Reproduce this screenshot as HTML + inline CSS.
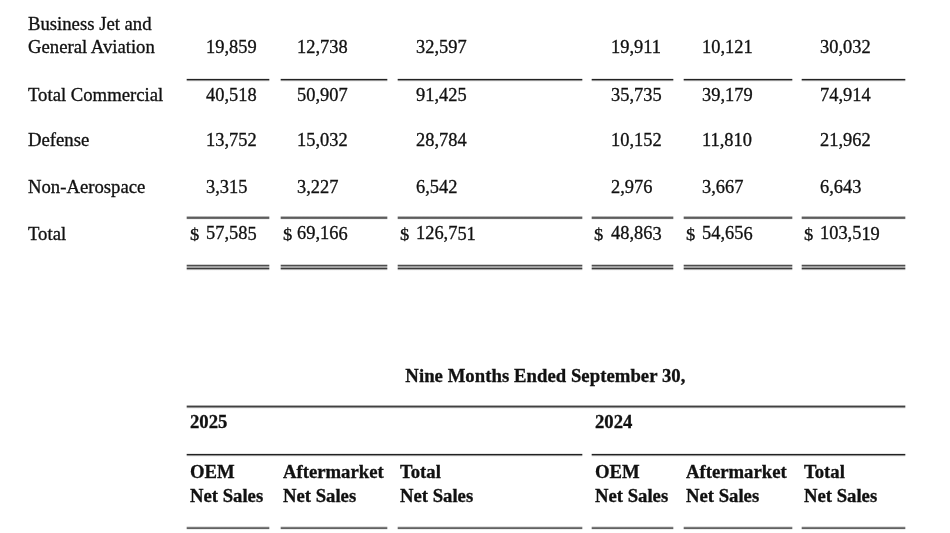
<!DOCTYPE html>
<html><head><meta charset="utf-8"><title>Net Sales</title>
<style>
html,body{margin:0;padding:0;background:#fff;}
body{width:950px;height:533px;position:relative;overflow:hidden;font-family:"Liberation Serif","Times New Roman",serif;font-size:18.7px;line-height:24px;color:#111;}
#tx{position:absolute;left:0;top:0;width:950px;height:533px;filter:blur(0.55px);}
.t{position:absolute;white-space:nowrap;transform-origin:0 18.2px;-webkit-text-stroke:0.32px #111;}
.b{font-weight:bold;}
.n{font-size:18.4px;}
.c{text-align:center;}
.l{position:absolute;}
.k{width:1px;opacity:0.32;}
.a79{height:4px;background:linear-gradient(to bottom,rgba(17,17,17,0.10) 0px,rgba(17,17,17,0.10) 1px,rgba(17,17,17,0.93) 1px,rgba(17,17,17,0.93) 2px,rgba(17,17,17,0.45) 2px,rgba(17,17,17,0.45) 3px,rgba(17,17,17,0.05) 3px,rgba(17,17,17,0.05) 4px);}
.a217{height:4px;background:linear-gradient(to bottom,rgba(17,17,17,0.30) 0px,rgba(17,17,17,0.30) 1px,rgba(17,17,17,0.68) 1px,rgba(17,17,17,0.68) 2px,rgba(17,17,17,0.62) 2px,rgba(17,17,17,0.62) 3px,rgba(17,17,17,0.05) 3px,rgba(17,17,17,0.05) 4px);}
.dbl{height:7px;background:linear-gradient(to bottom,rgba(17,17,17,0.20) 0px,rgba(17,17,17,0.20) 1px,rgba(17,17,17,0.75) 1px,rgba(17,17,17,0.75) 2px,rgba(17,17,17,0.40) 2px,rgba(17,17,17,0.40) 3px,rgba(17,17,17,0.38) 3px,rgba(17,17,17,0.38) 4px,rgba(17,17,17,0.82) 4px,rgba(17,17,17,0.82) 5px,rgba(17,17,17,0.35) 5px,rgba(17,17,17,0.35) 6px,rgba(17,17,17,0.03) 6px,rgba(17,17,17,0.03) 7px);}
.a527{height:4px;background:linear-gradient(to bottom,rgba(17,17,17,0.12) 0px,rgba(17,17,17,0.12) 1px,rgba(17,17,17,0.55) 1px,rgba(17,17,17,0.55) 2px,rgba(17,17,17,0.66) 2px,rgba(17,17,17,0.66) 3px,rgba(17,17,17,0.08) 3px,rgba(17,17,17,0.08) 4px);}
.a406{height:4px;background:linear-gradient(to bottom,rgba(17,17,17,0.35) 0px,rgba(17,17,17,0.35) 1px,rgba(17,17,17,0.80) 1px,rgba(17,17,17,0.80) 2px,rgba(17,17,17,0.45) 2px,rgba(17,17,17,0.45) 3px,rgba(17,17,17,0.05) 3px,rgba(17,17,17,0.05) 4px);}
.a454{height:4px;background:linear-gradient(to bottom,rgba(17,17,17,0.10) 0px,rgba(17,17,17,0.10) 1px,rgba(17,17,17,0.93) 1px,rgba(17,17,17,0.93) 2px,rgba(17,17,17,0.45) 2px,rgba(17,17,17,0.45) 3px,rgba(17,17,17,0.05) 3px,rgba(17,17,17,0.05) 4px);}
</style></head><body>
<div id="ln">
<div class="l a79" style="left:187px;top:78px;width:82px"></div>
<div class="l k a79" style="left:186px;top:78px"></div>
<div class="l k a79" style="left:269px;top:78px"></div>
<div class="l a217" style="left:187px;top:216px;width:82px"></div>
<div class="l k a217" style="left:186px;top:216px"></div>
<div class="l k a217" style="left:269px;top:216px"></div>
<div class="l dbl" style="left:187px;top:264px;width:82px"></div>
<div class="l k dbl" style="left:186px;top:264px"></div>
<div class="l k dbl" style="left:269px;top:264px"></div>
<div class="l a527" style="left:187px;top:526px;width:82px"></div>
<div class="l k a527" style="left:186px;top:526px"></div>
<div class="l k a527" style="left:269px;top:526px"></div>
<div class="l a79" style="left:281px;top:78px;width:106px"></div>
<div class="l k a79" style="left:280px;top:78px"></div>
<div class="l k a79" style="left:387px;top:78px"></div>
<div class="l a217" style="left:281px;top:216px;width:106px"></div>
<div class="l k a217" style="left:280px;top:216px"></div>
<div class="l k a217" style="left:387px;top:216px"></div>
<div class="l dbl" style="left:281px;top:264px;width:106px"></div>
<div class="l k dbl" style="left:280px;top:264px"></div>
<div class="l k dbl" style="left:387px;top:264px"></div>
<div class="l a527" style="left:281px;top:526px;width:106px"></div>
<div class="l k a527" style="left:280px;top:526px"></div>
<div class="l k a527" style="left:387px;top:526px"></div>
<div class="l a79" style="left:398px;top:78px;width:184px"></div>
<div class="l k a79" style="left:397px;top:78px"></div>
<div class="l k a79" style="left:582px;top:78px"></div>
<div class="l a217" style="left:398px;top:216px;width:184px"></div>
<div class="l k a217" style="left:397px;top:216px"></div>
<div class="l k a217" style="left:582px;top:216px"></div>
<div class="l dbl" style="left:398px;top:264px;width:184px"></div>
<div class="l k dbl" style="left:397px;top:264px"></div>
<div class="l k dbl" style="left:582px;top:264px"></div>
<div class="l a527" style="left:398px;top:526px;width:184px"></div>
<div class="l k a527" style="left:397px;top:526px"></div>
<div class="l k a527" style="left:582px;top:526px"></div>
<div class="l a79" style="left:592px;top:78px;width:81px"></div>
<div class="l k a79" style="left:591px;top:78px"></div>
<div class="l k a79" style="left:673px;top:78px"></div>
<div class="l a217" style="left:592px;top:216px;width:81px"></div>
<div class="l k a217" style="left:591px;top:216px"></div>
<div class="l k a217" style="left:673px;top:216px"></div>
<div class="l dbl" style="left:592px;top:264px;width:81px"></div>
<div class="l k dbl" style="left:591px;top:264px"></div>
<div class="l k dbl" style="left:673px;top:264px"></div>
<div class="l a527" style="left:592px;top:526px;width:81px"></div>
<div class="l k a527" style="left:591px;top:526px"></div>
<div class="l k a527" style="left:673px;top:526px"></div>
<div class="l a79" style="left:684px;top:78px;width:108px"></div>
<div class="l k a79" style="left:683px;top:78px"></div>
<div class="l k a79" style="left:792px;top:78px"></div>
<div class="l a217" style="left:684px;top:216px;width:108px"></div>
<div class="l k a217" style="left:683px;top:216px"></div>
<div class="l k a217" style="left:792px;top:216px"></div>
<div class="l dbl" style="left:684px;top:264px;width:108px"></div>
<div class="l k dbl" style="left:683px;top:264px"></div>
<div class="l k dbl" style="left:792px;top:264px"></div>
<div class="l a527" style="left:684px;top:526px;width:108px"></div>
<div class="l k a527" style="left:683px;top:526px"></div>
<div class="l k a527" style="left:792px;top:526px"></div>
<div class="l a79" style="left:802px;top:78px;width:103px"></div>
<div class="l k a79" style="left:801px;top:78px"></div>
<div class="l k a79" style="left:905px;top:78px"></div>
<div class="l a217" style="left:802px;top:216px;width:103px"></div>
<div class="l k a217" style="left:801px;top:216px"></div>
<div class="l k a217" style="left:905px;top:216px"></div>
<div class="l dbl" style="left:802px;top:264px;width:103px"></div>
<div class="l k dbl" style="left:801px;top:264px"></div>
<div class="l k dbl" style="left:905px;top:264px"></div>
<div class="l a527" style="left:802px;top:526px;width:103px"></div>
<div class="l k a527" style="left:801px;top:526px"></div>
<div class="l k a527" style="left:905px;top:526px"></div>
<div class="l a406" style="left:187px;top:405px;width:718px"></div>
<div class="l k a406" style="left:186px;top:405px"></div>
<div class="l k a406" style="left:905px;top:405px"></div>
<div class="l a454" style="left:187px;top:453px;width:395px"></div>
<div class="l k a454" style="left:186px;top:453px"></div>
<div class="l k a454" style="left:582px;top:453px"></div>
<div class="l a454" style="left:592px;top:453px;width:313px"></div>
<div class="l k a454" style="left:591px;top:453px"></div>
<div class="l k a454" style="left:905px;top:453px"></div>
</div>
<div id="tx">
<div class="t" style="left:28.0px;top:11px;transform:translate(0,0.50px) rotate(0.01deg) scaleY(0.955)">Business Jet and</div>
<div class="t" style="left:28.0px;top:35px;transform:translate(0,0.00px) rotate(0.01deg) scaleY(0.955)">General Aviation</div>
<div class="t" style="left:28.0px;top:82px;transform:translate(0,0.70px) rotate(0.01deg) scaleY(0.955)">Total Commercial</div>
<div class="t" style="left:28.0px;top:128px;transform:translate(0,0.30px) rotate(0.01deg) scaleY(0.955)">Defense</div>
<div class="t" style="left:28.0px;top:175px;transform:translate(0,0.20px) rotate(0.01deg) scaleY(0.955)">Non-Aerospace</div>
<div class="t" style="left:28.0px;top:221px;transform:translate(0,0.50px) rotate(0.01deg) scaleY(0.955)">Total</div>
<div class="t n" style="left:206.3px;top:35px;transform:translate(0,0.00px) rotate(0.01deg) scaleY(1.03)">19,859</div>
<div class="t n" style="left:297.1px;top:35px;transform:translate(0,0.00px) rotate(0.01deg) scaleY(1.03)">12,738</div>
<div class="t n" style="left:415.7px;top:35px;transform:translate(0,0.00px) rotate(0.01deg) scaleY(1.03)">32,597</div>
<div class="t n" style="left:610.9px;top:35px;transform:translate(0,0.00px) rotate(0.01deg) scaleY(1.03)">19,911</div>
<div class="t n" style="left:701.9px;top:35px;transform:translate(0,0.00px) rotate(0.01deg) scaleY(1.03)">10,121</div>
<div class="t n" style="left:820.3px;top:35px;transform:translate(0,0.00px) rotate(0.01deg) scaleY(1.03)">30,032</div>
<div class="t n" style="left:206.3px;top:82px;transform:translate(0,0.70px) rotate(0.01deg) scaleY(1.03)">40,518</div>
<div class="t n" style="left:297.1px;top:82px;transform:translate(0,0.70px) rotate(0.01deg) scaleY(1.03)">50,907</div>
<div class="t n" style="left:415.7px;top:82px;transform:translate(0,0.70px) rotate(0.01deg) scaleY(1.03)">91,425</div>
<div class="t n" style="left:610.9px;top:82px;transform:translate(0,0.70px) rotate(0.01deg) scaleY(1.03)">35,735</div>
<div class="t n" style="left:701.9px;top:82px;transform:translate(0,0.70px) rotate(0.01deg) scaleY(1.03)">39,179</div>
<div class="t n" style="left:820.3px;top:82px;transform:translate(0,0.70px) rotate(0.01deg) scaleY(1.03)">74,914</div>
<div class="t n" style="left:206.3px;top:128px;transform:translate(0,0.30px) rotate(0.01deg) scaleY(1.03)">13,752</div>
<div class="t n" style="left:297.1px;top:128px;transform:translate(0,0.30px) rotate(0.01deg) scaleY(1.03)">15,032</div>
<div class="t n" style="left:415.7px;top:128px;transform:translate(0,0.30px) rotate(0.01deg) scaleY(1.03)">28,784</div>
<div class="t n" style="left:610.9px;top:128px;transform:translate(0,0.30px) rotate(0.01deg) scaleY(1.03)">10,152</div>
<div class="t n" style="left:701.9px;top:128px;transform:translate(0,0.30px) rotate(0.01deg) scaleY(1.03)">11,810</div>
<div class="t n" style="left:820.3px;top:128px;transform:translate(0,0.30px) rotate(0.01deg) scaleY(1.03)">21,962</div>
<div class="t n" style="left:206.3px;top:175px;transform:translate(0,0.20px) rotate(0.01deg) scaleY(1.03)">3,315</div>
<div class="t n" style="left:297.1px;top:175px;transform:translate(0,0.20px) rotate(0.01deg) scaleY(1.03)">3,227</div>
<div class="t n" style="left:415.7px;top:175px;transform:translate(0,0.20px) rotate(0.01deg) scaleY(1.03)">6,542</div>
<div class="t n" style="left:610.9px;top:175px;transform:translate(0,0.20px) rotate(0.01deg) scaleY(1.03)">2,976</div>
<div class="t n" style="left:701.9px;top:175px;transform:translate(0,0.20px) rotate(0.01deg) scaleY(1.03)">3,667</div>
<div class="t n" style="left:820.3px;top:175px;transform:translate(0,0.20px) rotate(0.01deg) scaleY(1.03)">6,643</div>
<div class="t n" style="left:206.3px;top:221px;transform:translate(0,0.50px) rotate(0.01deg) scaleY(1.03)">57,585</div>
<div class="t" style="left:190.1px;top:221px;transform:translate(0,0.50px) rotate(0.01deg) scaleY(0.94)">$</div>
<div class="t n" style="left:297.1px;top:221px;transform:translate(0,0.50px) rotate(0.01deg) scaleY(1.03)">69,166</div>
<div class="t" style="left:282.8px;top:221px;transform:translate(0,0.50px) rotate(0.01deg) scaleY(0.94)">$</div>
<div class="t n" style="left:415.7px;top:221px;transform:translate(0,0.50px) rotate(0.01deg) scaleY(1.03)">126,751</div>
<div class="t" style="left:400.0px;top:221px;transform:translate(0,0.50px) rotate(0.01deg) scaleY(0.94)">$</div>
<div class="t n" style="left:610.9px;top:221px;transform:translate(0,0.50px) rotate(0.01deg) scaleY(1.03)">48,863</div>
<div class="t" style="left:594.4px;top:221px;transform:translate(0,0.50px) rotate(0.01deg) scaleY(0.94)">$</div>
<div class="t n" style="left:701.9px;top:221px;transform:translate(0,0.50px) rotate(0.01deg) scaleY(1.03)">54,656</div>
<div class="t" style="left:685.9px;top:221px;transform:translate(0,0.50px) rotate(0.01deg) scaleY(0.94)">$</div>
<div class="t n" style="left:820.3px;top:221px;transform:translate(0,0.50px) rotate(0.01deg) scaleY(1.03)">103,519</div>
<div class="t" style="left:804.2px;top:221px;transform:translate(0,0.50px) rotate(0.01deg) scaleY(0.94)">$</div>
<div class="t b c" style="left:186.2px;width:718.8px;top:364px;transform:translate(0,0.00px) rotate(0.01deg) scaleY(0.955);letter-spacing:0.055px">Nine Months Ended September 30,</div>
<div class="t b" style="left:189.8px;top:410px;transform:translate(0,0.00px) rotate(0.01deg) scaleY(0.955)">2025</div>
<div class="t b" style="left:594.9px;top:410px;transform:translate(0,0.00px) rotate(0.01deg) scaleY(0.955)">2024</div>
<div class="t b" style="left:189.9px;top:459px;transform:translate(0,0.80px) rotate(0.01deg) scaleY(0.955)">OEM</div>
<div class="t b" style="left:189.9px;top:483px;transform:translate(0,0.80px) rotate(0.01deg) scaleY(0.955)">Net Sales</div>
<div class="t b" style="left:283.0px;top:459px;transform:translate(0,0.80px) rotate(0.01deg) scaleY(0.955)">Aftermarket</div>
<div class="t b" style="left:283.0px;top:483px;transform:translate(0,0.80px) rotate(0.01deg) scaleY(0.955)">Net Sales</div>
<div class="t b" style="left:399.8px;top:459px;transform:translate(0,0.80px) rotate(0.01deg) scaleY(0.955)">Total</div>
<div class="t b" style="left:399.8px;top:483px;transform:translate(0,0.80px) rotate(0.01deg) scaleY(0.955)">Net Sales</div>
<div class="t b" style="left:594.8px;top:459px;transform:translate(0,0.80px) rotate(0.01deg) scaleY(0.955)">OEM</div>
<div class="t b" style="left:594.8px;top:483px;transform:translate(0,0.80px) rotate(0.01deg) scaleY(0.955)">Net Sales</div>
<div class="t b" style="left:686.3px;top:459px;transform:translate(0,0.80px) rotate(0.01deg) scaleY(0.955)">Aftermarket</div>
<div class="t b" style="left:686.3px;top:483px;transform:translate(0,0.80px) rotate(0.01deg) scaleY(0.955)">Net Sales</div>
<div class="t b" style="left:804.3px;top:459px;transform:translate(0,0.80px) rotate(0.01deg) scaleY(0.955)">Total</div>
<div class="t b" style="left:804.3px;top:483px;transform:translate(0,0.80px) rotate(0.01deg) scaleY(0.955)">Net Sales</div>
</div>
</body></html>
